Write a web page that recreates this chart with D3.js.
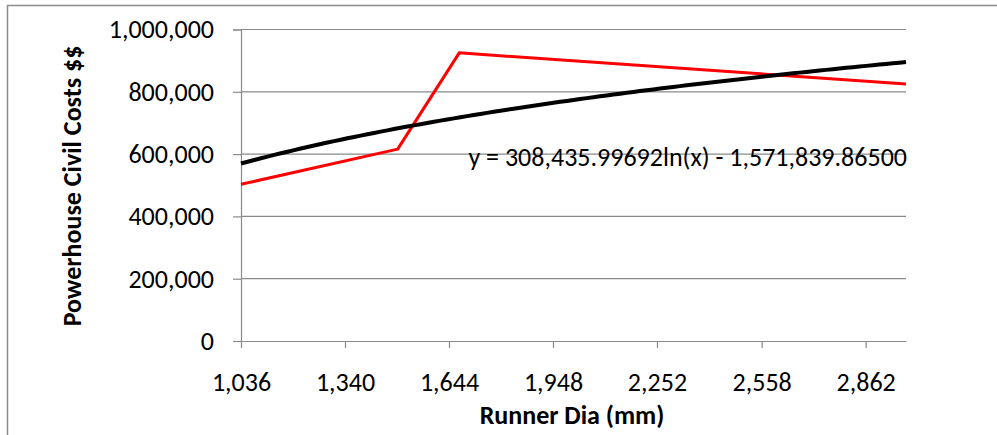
<!DOCTYPE html>
<html>
<head>
<meta charset="utf-8">
<script src="https://cdn.jsdelivr.net/npm/d3@7/dist/d3.min.js"></script>
<style>
  html, body { margin: 0; padding: 0; background: #fff; }
  svg { display: block; }
  text { font-family: Carlito, Calibri, Lato, "Open Sans", sans-serif; fill: #000; }
</style>
</head>
<body>
<svg id="chart" width="997" height="435"></svg>
<script>
// Runner diameter (mm) vs powerhouse civil cost ($)
const runnerDia = [1036, 1494, 1674, 2980];
const civilCost = [503000, 616000, 925000, 825000];

// Logarithmic trendline coefficients: y = a ln(x) + b
const trendA = 308435.99692;
const trendB = -1571839.86500;
const trendLabel = "y = 308,435.99692ln(x) - 1,571,839.86500";

const xTicks = [1036, 1340, 1644, 1948, 2252, 2558, 2862];
const yTicks = [0, 200000, 400000, 600000, 800000, 1000000];

const svg = d3.select("#chart");
const W = 997, H = 435;
const m = { left: 241, right: W - 906, top: 29.5, bottom: H - 341 };
const FS = "26px";

// outer chart frame
svg.append("rect")
  .attr("x", 7.5).attr("y", 5.5)
  .attr("width", W + 10).attr("height", H + 10)
  .attr("fill", "none").attr("stroke", "#8c8c8c").attr("stroke-width", 1.5);

const x = d3.scaleLinear().domain([1036, 2980]).range([m.left, W - m.right]);
const y = d3.scaleLinear().domain([0, 1000000]).range([H - m.bottom, m.top]);

const fmt = d3.format(",");

// horizontal gridlines
svg.append("g")
  .selectAll("line").data(yTicks.filter(d => d > 0)).join("line")
  .attr("x1", x.range()[0]).attr("x2", x.range()[1])
  .attr("y1", d => y(d)).attr("y2", d => y(d))
  .attr("stroke", "#8a8a8a").attr("stroke-width", 1.2);

// y axis
const yAxis = svg.append("g")
  .attr("transform", `translate(${m.left},0)`)
  .call(d3.axisLeft(y).tickValues(yTicks).tickFormat(fmt).tickSize(8).tickPadding(19));
yAxis.select(".domain").attr("stroke", "#8a8a8a").attr("stroke-width", 1.2);
yAxis.selectAll(".tick line").attr("stroke", "#8a8a8a").attr("stroke-width", 1.2);
yAxis.selectAll(".tick text").style("font-size", FS).attr("fill", "#000");

// x axis
const xAxis = svg.append("g")
  .attr("transform", `translate(0,${y(0)})`)
  .call(d3.axisBottom(x).tickValues(xTicks).tickFormat(fmt).tickSize(7).tickSizeOuter(0).tickPadding(25));
xAxis.select(".domain").attr("stroke", "#8a8a8a").attr("stroke-width", 1.2);
xAxis.selectAll(".tick line").attr("stroke", "#8a8a8a").attr("stroke-width", 1.2);
xAxis.selectAll(".tick text").style("font-size", FS).attr("fill", "#000");

// cost series
const pts = runnerDia.map((d, i) => [d, civilCost[i]]);
svg.append("path")
  .datum(pts)
  .attr("fill", "none").attr("stroke", "#ff0000").attr("stroke-width", 3)
  .attr("stroke-linejoin", "round")
  .attr("d", d3.line().x(d => x(d[0])).y(d => y(d[1])));

// logarithmic trendline over the data range
const xs = d3.range(0, 101).map(i => runnerDia[0] + (runnerDia[runnerDia.length - 1] - runnerDia[0]) * i / 100);
svg.append("path")
  .datum(xs.map(v => [v, trendA * Math.log(v) + trendB]))
  .attr("fill", "none").attr("stroke", "#000").attr("stroke-width", 4)
  .attr("d", d3.line().x(d => x(d[0])).y(d => y(d[1])));

// trendline equation
svg.append("text")
  .attr("x", 907).attr("y", 166)
  .attr("text-anchor", "end")
  .style("font-size", FS)
  .text(trendLabel);

// axis titles
svg.append("text")
  .attr("x", 572).attr("y", 424)
  .attr("text-anchor", "middle")
  .style("font-size", FS).style("font-weight", "bold")
  .text("Runner Dia (mm)");

svg.append("text")
  .attr("transform", "translate(81,186) rotate(-90)")
  .attr("text-anchor", "middle")
  .style("font-size", FS).style("font-weight", "bold")
  .text("Powerhouse Civil Costs $$");
</script>
</body>
</html>
